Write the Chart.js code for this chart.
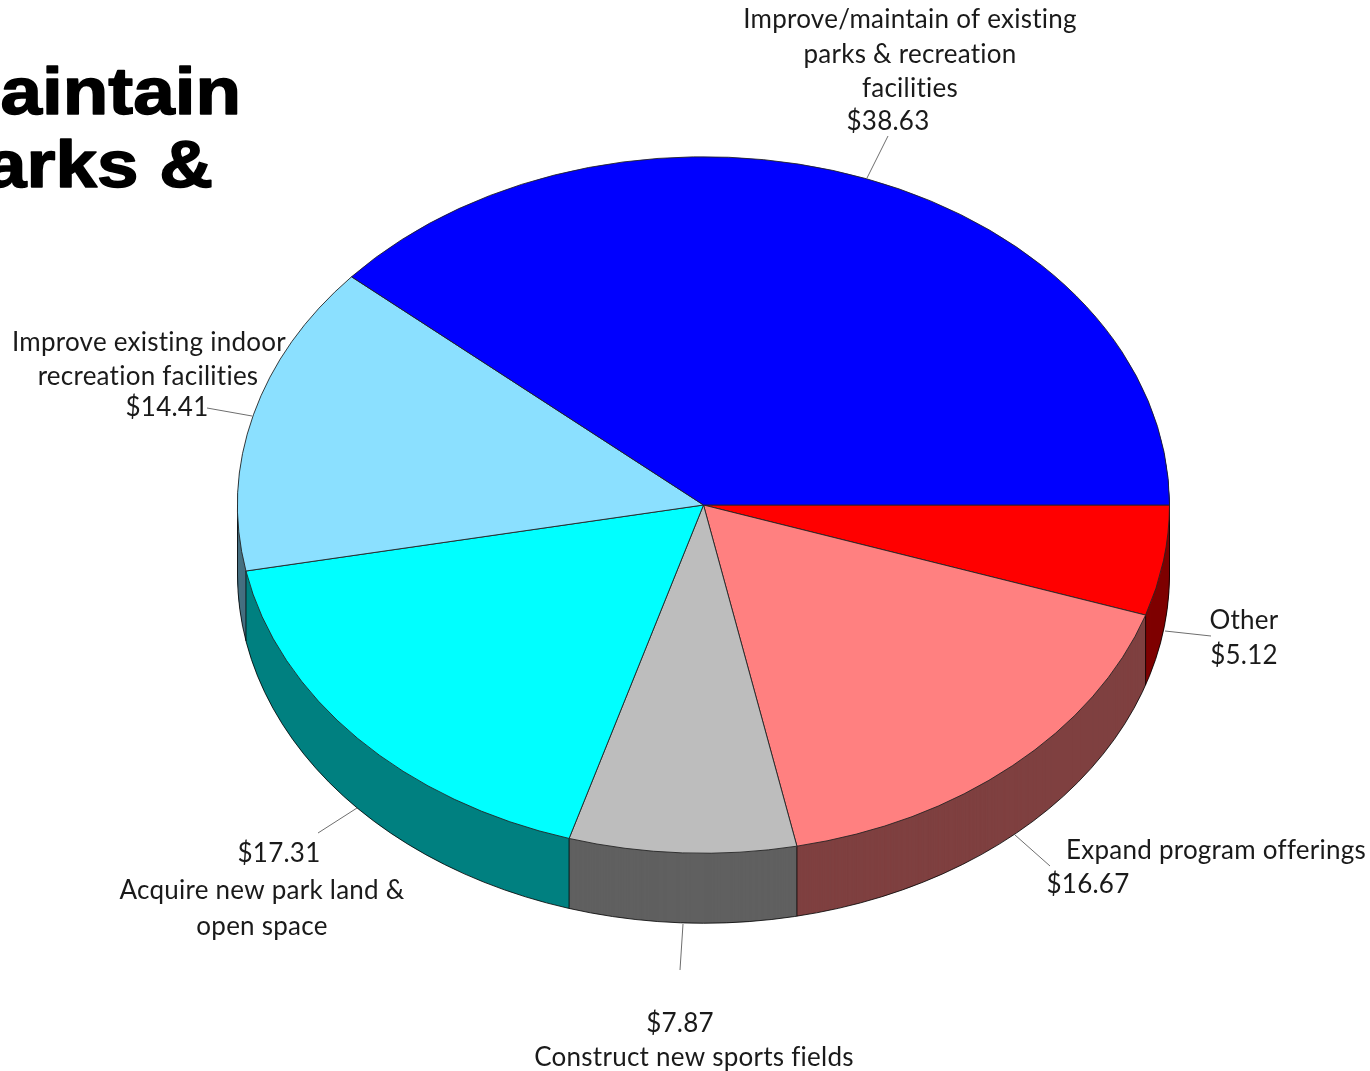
<!DOCTYPE html>
<html>
<head>
<meta charset="utf-8">
<title>Improve/maintain parks</title>
<style>
  html, body { margin: 0; padding: 0; background: #fff; overflow: hidden; }
  canvas { display: block; }
</style>
<script src="https://cdn.jsdelivr.net/npm/chart.js@4"></script>
</head>
<body>
<canvas id="pie" width="1370" height="1071"></canvas>
<script>
// ===== Data =====
const categories = ['Other', 'Expand program offerings', 'Construct new sports fields',
  'Acquire new park land & open space', 'Improve existing indoor recreation facilities',
  'Improve/maintain of existing parks & recreation facilities'];
const values = [5.12, 16.67, 7.87, 17.31, 14.41, 38.63];
const titleLines = ['aintain', 'arks &'];

// ===== Styles =====
const topColors  = ['#ff0000', '#ff8080', '#bdbdbd', '#00ffff', '#8be0ff', '#0000ff'];
const sideColors = ['#7f0000', '#7f4040', '#606060', '#008080', '#467080', '#000080'];
const SQUASH = 349 / 467;   // tilt of the pie
const DEPTH = 70;           // height of the side wall

// label placement, same order as values. {v} is where the dollar value goes
const labelLayout = [
  { lines: [['Other', 1244, 621], ['{v}', 1244, 656]], leader: [1165, 631, 1211, 636] },
  { lines: [['Expand program offerings', 1216, 851], ['{v}', 1088, 885]], leader: [1015, 835, 1050, 866] },
  { lines: [['{v}', 680, 1024], ['Construct new sports fields', 694, 1058]], leader: [683, 924, 680, 970] },
  { lines: [['{v}', 279, 854], ['Acquire new park land &', 262, 891], ['open space', 262, 927]], leader: [318, 833, 357, 808] },
  { lines: [['Improve existing indoor', 149, 343], ['recreation facilities', 148, 377], ['{v}', 167, 408]], leader: [207, 408, 252, 416] },
  { lines: [['Improve/maintain of existing', 910, 20], ['parks & recreation', 910, 55], ['facilities', 910, 89], ['{v}', 888, 122]], leader: [867, 178, 888, 136] }
];

// title: text, left edge, baseline
const titleLayout = [[0.6, 114], [-15, 187]];
const TITLE_STRETCH = 1.13;

// ===== Side wall, drawn under the real slices =====
function sideArc(el, color) {
  return new Chart.ArcElement({
    x: el.x, y: el.y,
    startAngle: el.startAngle, endAngle: el.endAngle,
    circumference: el.circumference,
    innerRadius: 0, outerRadius: el.outerRadius,
    options: { backgroundColor: color, borderColor: color, borderWidth: 0, borderAlign: 'center',
      borderRadius: 0, spacing: 0, offset: 0, circular: true }
  });
}

function tilt(ctx, el, down) {
  ctx.translate(el.x, el.y + down);
  ctx.scale(1, SQUASH);
  ctx.translate(-el.x, -el.y);
}

function drawWall(chart) {
  const ctx = chart.ctx;
  const arcs = chart.getDatasetMeta(0).data;

  // back slices first, so the front ones sit on top
  const depthOf = a => Math.sin((a.startAngle + a.endAngle) / 2);
  const order = arcs.map((a, i) => i).sort((p, q) => depthOf(arcs[p]) - depthOf(arcs[q]));
  order.forEach(i => {
    const piece = sideArc(arcs[i], sideColors[i]);
    for (let d = DEPTH; d >= 1; d--) {
      ctx.save();
      tilt(ctx, arcs[i], d);
      piece.draw(ctx);
      ctx.restore();
    }
  });

  // outline of the wall
  const el = arcs[0], r = el.outerRadius, ry = r * SQUASH;
  ctx.save();
  ctx.strokeStyle = 'rgba(0,0,0,0.8)';
  ctx.lineWidth = 1;
  ctx.beginPath();
  ctx.ellipse(el.x, el.y + DEPTH, r, ry, 0, 0, Math.PI);
  ctx.stroke();
  const edges = [0, Math.PI];
  arcs.forEach(a => { if (a.endAngle > 0 && a.endAngle < Math.PI) edges.push(a.endAngle); });
  edges.forEach(a => {
    const x = el.x + r * Math.cos(a), y = el.y + ry * Math.sin(a);
    ctx.beginPath();
    ctx.moveTo(x, y);
    ctx.lineTo(x, y + DEPTH);
    ctx.stroke();
  });
  ctx.restore();
}

const tiltedPie = {
  id: 'tiltedPie',
  beforeDatasetsDraw(chart) {
    drawWall(chart);
    chart.ctx.save();
    tilt(chart.ctx, chart.getDatasetMeta(0).data[0], 0);
  },
  afterDatasetsDraw(chart) {
    chart.ctx.restore();
  },
  afterDraw(chart) {
    const ctx = chart.ctx;
    ctx.save();

    // leader lines
    ctx.strokeStyle = '#6e6e6e';
    ctx.lineWidth = 1;
    labelLayout.forEach(l => {
      ctx.beginPath();
      ctx.moveTo(l.leader[0], l.leader[1]);
      ctx.lineTo(l.leader[2], l.leader[3]);
      ctx.stroke();
    });

    // labels, the small spacing also turns off Lato's ti ligature
    ctx.fillStyle = '#1a1a1a';
    ctx.font = '26px Lato';
    ctx.letterSpacing = '0.25px';
    ctx.textAlign = 'center';
    ctx.textBaseline = 'middle';
    labelLayout.forEach((l, i) => {
      l.lines.forEach(([text, x, y]) => {
        ctx.fillText(text === '{v}' ? '$' + values[i].toFixed(2) : text, x, y);
      });
    });

    // title, cut off by the left edge in the source
    ctx.fillStyle = '#000';
    ctx.strokeStyle = '#000';
    ctx.lineWidth = 1.5;
    ctx.lineJoin = 'round';
    ctx.font = 'bold 66px "Liberation Sans"';
    ctx.letterSpacing = '0px';
    ctx.textAlign = 'left';
    ctx.textBaseline = 'alphabetic';
    titleLines.forEach((t, i) => {
      ctx.save();
      ctx.translate(titleLayout[i][0], titleLayout[i][1]);
      ctx.scale(TITLE_STRETCH, 1);
      ctx.fillText(t, 0, 0);
      ctx.strokeText(t, 0, 0);
      ctx.restore();
    });
    ctx.restore();
  }
};

// ===== Chart =====
new Chart(document.getElementById('pie'), {
  type: 'pie',
  data: {
    labels: categories,
    datasets: [{
      data: values,
      backgroundColor: topColors,
      borderColor: '#222',
      borderWidth: 1
    }]
  },
  options: {
    responsive: false,
    animation: false,
    rotation: 90,
    layout: { padding: { left: 237, right: 200, top: 38, bottom: 99 } },
    plugins: { legend: { display: false }, title: { display: false } }
  },
  plugins: [tiltedPie]
});
</script>
</body>
</html>
